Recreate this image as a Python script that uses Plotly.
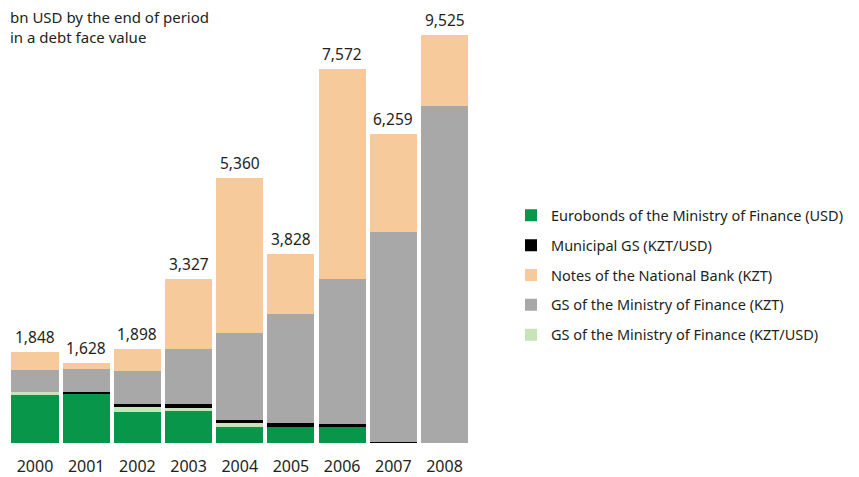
import plotly.graph_objects as go

years = ['2000', '2001', '2002', '2003', '2004', '2005', '2006', '2007', '2008']
totals_text = ['1,848', '1,628', '1,898', '3,327', '5,360', '3,828', '7,572', '6,259', '9,525']

# bn USD, stacked from the bottom up
eurobonds = [990, 990, 630, 638, 334, 334, 334, 0, 0]
gs_kzt_usd = [40, 0, 100, 71, 61, 0, 0, 0, 0]
municipal = [0, 45, 65, 81, 61, 61, 47, 30, 0]
gs_kzt = [440, 455, 660, 1114, 1762, 2218, 2950, 4253, 6834]
notes_nb = [378, 138, 443, 1423, 3142, 1215, 4241, 1976, 1438]

series = [
    ('Eurobonds of the Ministry of Finance (USD)', eurobonds, '#07964a', 1),
    ('GS of the Ministry of Finance (KZT/USD)', gs_kzt_usd, '#c6e4b8', 5),
    ('Municipal GS (KZT/USD)', municipal, '#000000', 2),
    ('GS of the Ministry of Finance (KZT)', gs_kzt, '#a7a8a7', 4),
    ('Notes of the National Bank (KZT)', notes_nb, '#f6ca9a', 3),
]

font = 'Noto Sans'
# the page adds an 8px body margin, so the figure is shifted by 8px
W, H = 851, 469

fig = go.Figure()
for name, vals, color, rank in series:
    fig.add_trace(go.Bar(x=years, y=vals, name=name, legendgroup=name,
                         legendrank=rank,
                         marker=dict(color=color, line=dict(width=0))))

# total labels on top of each stack
for i, yr in enumerate(years):
    top = sum(s[1][i] for s in series)
    fig.add_annotation(x=i, y=top, text=totals_text[i], showarrow=False,
                       yanchor='bottom', yshift=2,
                       font=dict(family=font, size=15.5, color='#231f20'))

fig.add_annotation(xref='paper', yref='paper', x=0, y=1.0,
                   xanchor='left', yanchor='top', yshift=15, align='left',
                   showarrow=False,
                   text='bn USD by the end of period<br>in a debt face value',
                   font=dict(family=font, size=15, color='#231f20'))

fig.update_layout(
    width=W, height=H,
    template='none',
    barmode='stack', bargap=0.08,
    paper_bgcolor='white', plot_bgcolor='white',
    margin=dict(l=0, r=0, t=12, b=34),
    font=dict(family=font, size=14, color='#231f20'),
    xaxis=dict(type='category', domain=[1.4 / W, 462.1 / W], range=[-0.5, 8.5],
               showgrid=False, zeroline=False, showline=False, ticks='',
               ticklabelstandoff=12, tickfont=dict(size=16)),
    yaxis=dict(range=[0, 8566], visible=False),
    legend=dict(x=503 / W, y=0.576, xanchor='left', yanchor='top',
                tracegroupgap=8, font=dict(size=14.5),
                bgcolor='rgba(0,0,0,0)'),
    showlegend=True,
)

fig.write_html('out.html')
